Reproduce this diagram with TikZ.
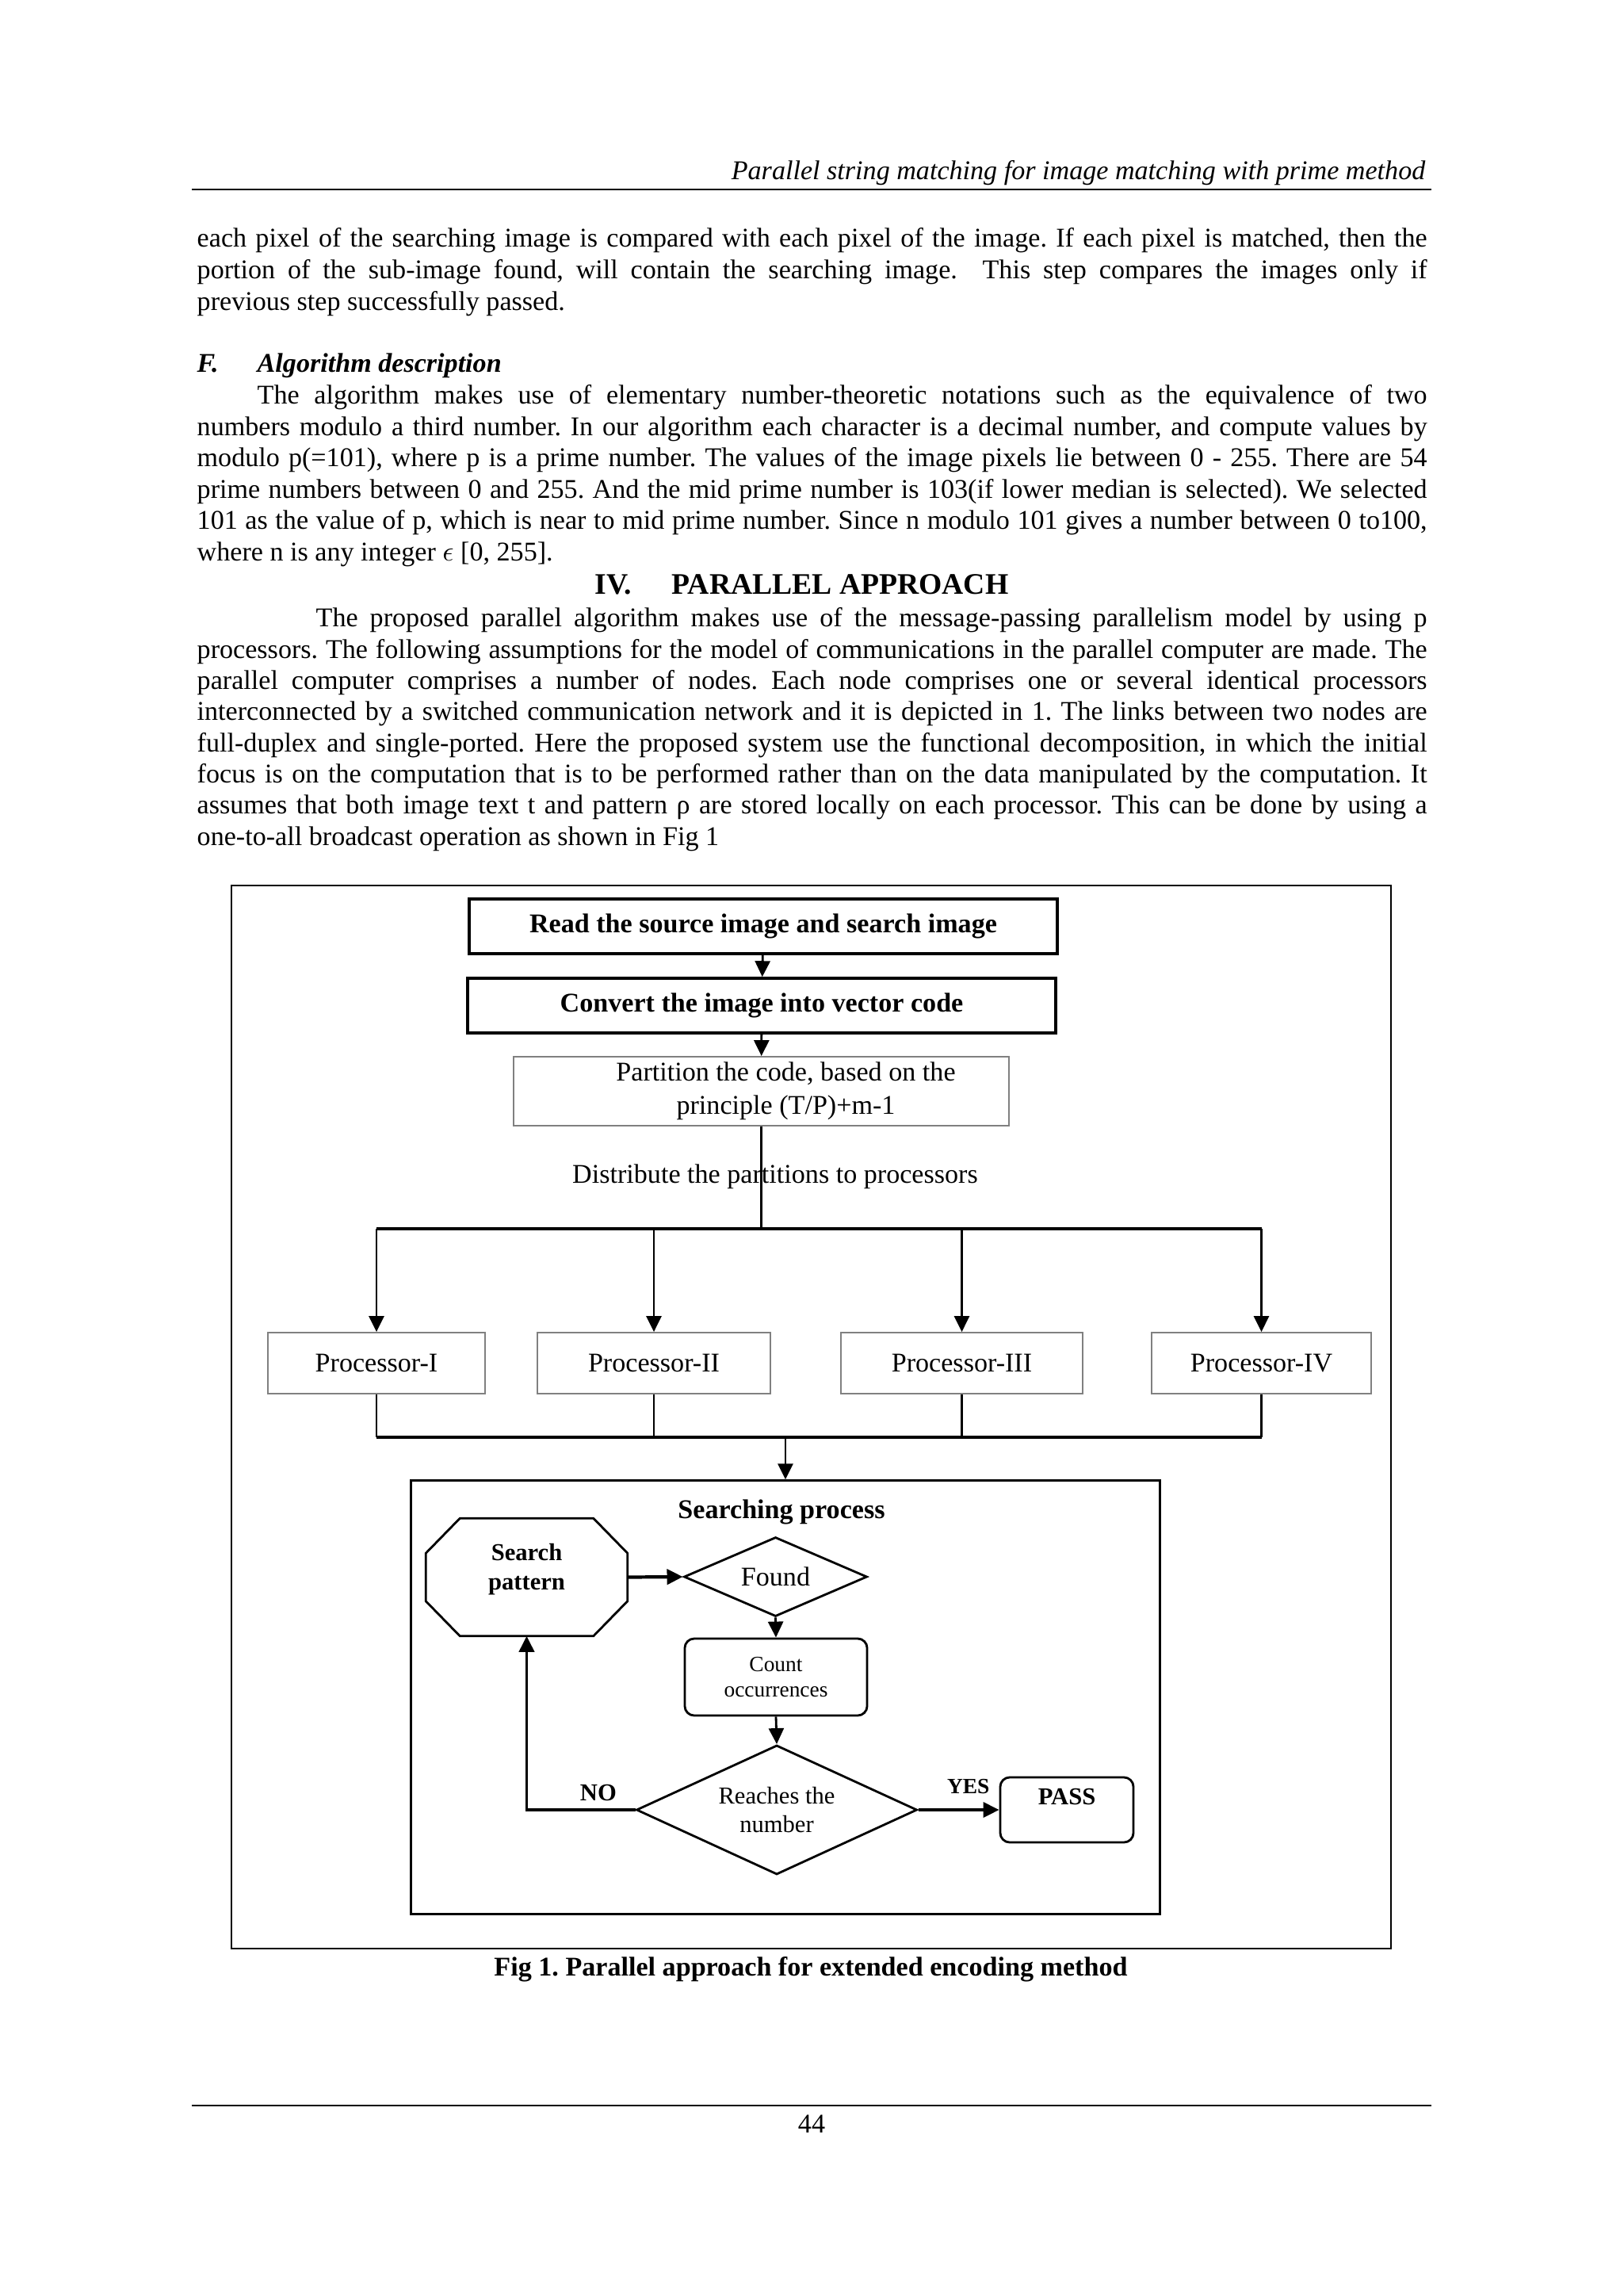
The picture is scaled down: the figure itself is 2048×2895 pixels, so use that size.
\documentclass[tikz,border=0pt]{standalone}
\usepackage{fontspec}
\setmainfont{Liberation Serif}
\usetikzlibrary{arrows.meta,shapes.geometric}
\frenchspacing

\newcommand{\bodyfont}{\fontsize{9.7}{11.3}\selectfont}
\newcommand{\midfont}{\fontsize{8.7}{10.4}\selectfont}
\newcommand{\tinyfont}{\fontsize{7.8}{9}\selectfont}

\tikzset{
  txt/.style={anchor=base west, inner sep=0pt, font=\bodyfont},
  boldbox/.style={rectangle, draw, line width=1pt, minimum width=7.42cm, minimum height=0.69cm, inner sep=0pt, font=\bodyfont\bfseries},
  graybox/.style={rectangle, draw=black!50, line width=0.5pt, inner sep=0pt, minimum height=0.77cm, font=\bodyfont},
  roundbox/.style={rectangle, rounded corners=0.12cm, draw, line width=0.8pt, inner sep=0pt},
  decision/.style={diamond, draw, line width=0.8pt, inner sep=0pt},
  arr/.style={-{Triangle[length=0.2cm,width=0.19cm]}, line width=0.8pt},
  bar/.style={line width=1.3pt},
  lbl/.style={inner sep=0pt, font=\midfont\bfseries},
}

\begin{document}
\begin{tikzpicture}[x=0.01cm, y=-0.01cm]
\useasboundingbox (0,0) rectangle (2048,2895);

% running head
\node[anchor=base east, inner sep=0pt, font=\bodyfont\itshape] (runhead) at (1799,227) {Parallel string matching for image matching with prime method};
\draw[line width=0.8pt] (242,239) -- (1806,239);

% end of previous section
\node[txt] (pa1) at (248,312) {\makebox[15.51cm][s]{each pixel of the searching image is compared with each pixel of the image. If each pixel is matched, then the}};
\node[txt] (pa2) at (248,352) {\makebox[15.51cm][s]{portion of the sub-image found, will contain the searching image.\ \ This step compares the images only if}};
\node[txt] (pa3) at (248,392) {previous step successfully passed.};

% F. Algorithm description
\node[txt, font=\bodyfont\bfseries\itshape] (secf) at (248,470) {F.};
\node[txt, font=\bodyfont\bfseries\itshape] (secfname) at (324,470) {Algorithm description};
\node[txt] (pb1) at (324,510) {\makebox[14.75cm][s]{The algorithm makes use of elementary number-theoretic notations such as the equivalence of two}};
\node[txt] (pb2) at (248,549.5) {\makebox[15.51cm][s]{numbers modulo a third number. In our algorithm each character is a decimal number, and compute values by}};
\node[txt] (pb3) at (248,589) {\makebox[15.51cm][s]{modulo p(=101), where p is a prime number. The values of the image pixels lie between 0 - 255. There are 54}};
\node[txt] (pb4) at (248,628.5) {\makebox[15.51cm][s]{prime numbers between 0 and 255. And the mid prime number is 103(if lower median is selected). We selected}};
\node[txt] (pb5) at (248,668) {\makebox[15.51cm][s]{101 as the value of p, which is near to mid prime number. Since n modulo 101 gives a number between 0 to100,}};
\node[txt] (pb6) at (248,707.5) {where n is any integer $\epsilon$ [0, 255].};

% IV. Parallel approach
\node[txt, font=\fontsize{10.7}{12.5}\selectfont\bfseries] (seciv) at (750,750) {IV.};
\node[txt, font=\fontsize{10.7}{12.5}\selectfont\bfseries] (secivname) at (847,750) {PARALLEL APPROACH};
\node[txt] (pc1) at (398,791) {\makebox[14.01cm][s]{The proposed parallel algorithm makes use of the message-passing parallelism model by using p}};
\node[txt] (pc2) at (248,830.3) {\makebox[15.51cm][s]{processors. The following assumptions for the model of communications in the parallel computer are made. The}};
\node[txt] (pc3) at (248,869.6) {\makebox[15.51cm][s]{parallel computer comprises a number of nodes. Each node comprises one or several identical processors}};
\node[txt] (pc4) at (248,908.9) {\makebox[15.51cm][s]{interconnected by a switched communication network and it is depicted in 1. The links between two nodes are}};
\node[txt] (pc5) at (248,948.2) {\makebox[15.51cm][s]{full-duplex and single-ported. Here the proposed system use the functional decomposition, in which the initial}};
\node[txt] (pc6) at (248,987.5) {\makebox[15.51cm][s]{focus is on the computation that is to be performed rather than on the data manipulated by the computation. It}};
\node[txt] (pc7) at (248,1026.8) {\makebox[15.51cm][s]{assumes that both image text t and pattern ρ are stored locally on each processor. This can be done by using a}};
\node[txt] (pc8) at (248,1066.1) {one-to-all broadcast operation as shown in Fig 1};

% figure frame
\draw[line width=0.6pt] (292,1117) rectangle (1755,2458);

% preparation steps
\node[boldbox] (readimg) at (963,1168.5) {Read the source image and search image};
\node[boldbox] (convimg) at (961,1268.5) {Convert the image into vector code};
\node[graybox, minimum width=6.25cm, minimum height=0.87cm, align=center, font=\fontsize{9.7}{11.9}\selectfont] (partcode) at (960.5,1376.5) {\hspace*{0.62cm}Partition the code, based on the\\\hspace*{0.62cm}principle (T/P)+m-1};
\node[txt, anchor=base] (distlbl) at (978,1492) {Distribute the partitions to processors};

\draw[arr] (readimg) -- (convimg);
\draw[arr] (convimg) -- (partcode);

% processors
\node[graybox, minimum width=2.74cm] (proc1) at (475,1719.5) {Processor-I};
\node[graybox, minimum width=2.94cm] (proc2) at (825,1719.5) {Processor-II};
\node[graybox, minimum width=3.05cm] (proc3) at (1213.5,1719.5) {Processor-III};
\node[graybox, minimum width=2.77cm] (proc4) at (1591.5,1719.5) {Processor-IV};

\coordinate (topbar) at (961,1550);
\coordinate (botbar) at (991,1813);
\draw[line width=0.8pt] (partcode.south) -- (partcode.south |- topbar);
\draw[bar] (proc1.north |- topbar) -- (proc4.north |- topbar);
\foreach \p in {1,...,4}
  \draw[arr] (proc\p.north |- topbar) -- (proc\p.north);
\foreach \p in {1,...,4}
  \draw[line width=0.8pt] (proc\p.south) -- (proc\p.south |- botbar);
\draw[bar] (proc1.south |- botbar) -- (proc4.south |- botbar);

% searching process
\node[draw, line width=0.9pt, minimum width=9.44cm, minimum height=5.46cm, inner sep=0pt] (searchbox) at (991,2141) {};
\draw[arr] (botbar) -- (searchbox.north);
\node[txt, anchor=base, font=\bodyfont\bfseries] (searchttl) at (986,1915) {Searching process};

\node[minimum width=2.53cm, minimum height=1.47cm, inner sep=0pt, font=\midfont\bfseries,
      text height=0.41cm, text depth=0.1cm] (pattern) at (664.5,1989.5)
      {\begin{tabular}[b]{@{}c@{}}Search\\pattern\end{tabular}};
\draw[line width=0.8pt] ([xshift=0.43cm]pattern.north west) -- ([xshift=-0.43cm]pattern.north east)
  -- ([yshift=-0.44cm]pattern.north east) -- ([yshift=0.44cm]pattern.south east)
  -- ([xshift=-0.43cm]pattern.south east) -- ([xshift=0.43cm]pattern.south west)
  -- ([yshift=0.44cm]pattern.south west) -- ([yshift=-0.44cm]pattern.north west) -- cycle;
\node[decision, aspect=2.31, minimum width=2.31cm, minimum height=1.0cm, font=\bodyfont] (found) at (978.5,1989) {Found};
\node[roundbox, minimum width=2.3cm, minimum height=0.97cm, align=center, font=\tinyfont] (countocc) at (979,2115.5) {Count\\occurrences};
\node[decision, aspect=2.17, minimum width=3.54cm, minimum height=1.63cm, align=center, font=\fontsize{8.7}{10.5}\selectfont] (reachnum) at (980,2283) {Reaches the\\number};
\node[roundbox, minimum width=1.68cm, minimum height=0.82cm, font=\midfont\bfseries, text height=0.2cm, text depth=0.34cm] (passbox) at (1346,2283) {PASS};

\draw[arr, line width=1.2pt] (pattern.east) -- (found.west);
\draw[arr] (found.south) -- (countocc.north);
\draw[arr] (countocc.south) -- (reachnum.north);
\draw[arr, line width=1.1pt] (reachnum.west) -| node[lbl, pos=0.17, above, yshift=0.09cm] (lblno) {NO} (pattern.south);
\draw[arr, line width=1.1pt] (reachnum.east) -- node[lbl, pos=0.62, above, yshift=0.18cm, font=\tinyfont\bfseries] (lblyes) {YES} (passbox.west);

% caption and footer
\node[txt, anchor=base, font=\bodyfont\bfseries] (figcap) at (1023,2492) {Fig 1. Parallel approach for extended encoding method};
\draw[line width=0.8pt] (242,2656) -- (1806,2656);
\node[txt, anchor=base] (pagenum) at (1024,2690) {44};
\end{tikzpicture}
\end{document}
